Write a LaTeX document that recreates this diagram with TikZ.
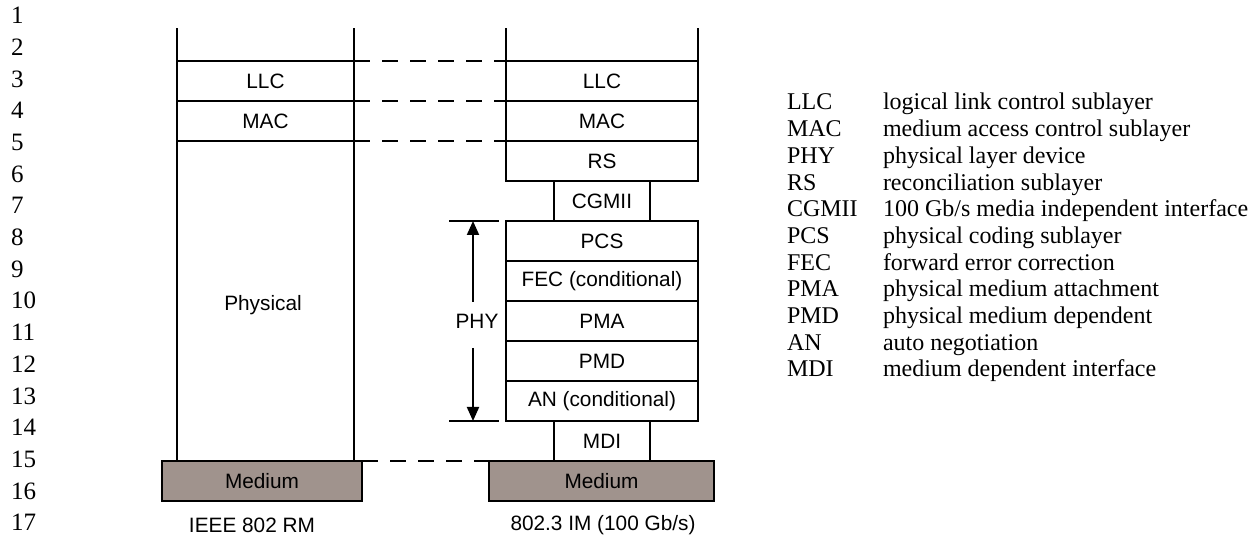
\documentclass[tikz,border=0pt]{standalone}
\usepackage{fontspec}
\setmainfont{Liberation Serif}
\setsansfont{Liberation Sans}
\usetikzlibrary{arrows.meta}
\definecolor{mediumfill}{RGB}{160,147,141}

\begin{document}
\begin{tikzpicture}[x=0.5pt, y=-0.5pt, line width=1pt, >={Triangle[length=7pt,width=6pt]},
  layer/.style={draw, minimum height=20pt, inner sep=0pt, outer sep=0pt, font=\fontsize{10.4}{12}\sffamily},
  medium/.style={layer, fill=mediumfill},
  caption/.style={inner sep=0pt, font=\fontsize{10.4}{12}\sffamily},
  legend/.style={anchor=base west, inner sep=0pt, font=\fontsize{12}{14}\selectfont},
  linenum/.style={anchor=west, inner sep=0pt, font=\fontsize{12.5}{14}\selectfont}]

\useasboundingbox (0,0) rectangle (1249,544);

% Line numbers
\foreach \n in {1,...,17} {
    \node[linenum] (num-\n) at (10, {15.5+31.7*(\n-1)}) {\n};
}

% IEEE 802 reference model
\node[layer, minimum width=88.5pt] (llcL) at (265.5,81) {LLC};
\node[layer, minimum width=88.5pt] (macL) at (265.5,121) {MAC};
\node[layer, minimum width=88.5pt, minimum height=160pt] (phyL) at (265.5,301) {};
\node[caption] (physical) at (263,305) {Physical};
\node[medium, minimum width=100pt] (medL) at (262,481) {Medium};
\draw (llcL.north west) -- ++(0,-33);
\draw (llcL.north east) -- ++(0,-33);

% 802.3 implementation model
\node[layer, minimum width=96pt] (llcR) at (602,81) {LLC};
\node[layer, minimum width=96pt] (macR) at (602,121) {MAC};
\node[layer, minimum width=96pt] (rsR) at (602,161) {RS};
\node[layer, minimum width=48pt] (cgmii) at (602,201) {CGMII};
\node[layer, minimum width=96pt] (pcs) at (602,241) {PCS};
\node[layer, minimum width=96pt] (fec) at (602,281) {FEC (conditional)};
\node[layer, minimum width=96pt] (pma) at (602,321) {PMA};
\node[layer, minimum width=96pt] (pmd) at (602,361) {PMD};
\node[layer, minimum width=96pt] (an) at (602,401) {AN (conditional)};
\node[layer, minimum width=48pt] (mdi) at (602,441) {MDI};
\node[medium, minimum width=112.5pt] (medR) at (601.5,481) {Medium};
\draw (llcR.north west) -- ++(0,-33);
\draw (llcR.north east) -- ++(0,-33);

% Dashed correspondences
\draw[dashed, dash pattern=on 8pt off 6pt] (llcL.north east) -- (llcR.north west);
\draw[dashed, dash pattern=on 8pt off 6pt] (macL.north east) -- (macR.north west);
\draw[dashed, dash pattern=on 8pt off 6pt] (macL.south east) -- (rsR.north west);
\draw[dashed, dash pattern=on 8pt off 6pt] (medL.north east) -- (medR.north west);

% PHY extent
\draw (449,221) -- (499,221);
\draw (449,421) -- (499,421);
\node[caption] (phy) at (477,321) {PHY};
\coordinate (phyTop) at (473,302);
\coordinate (phyBot) at (473,348);
\draw[->] (phyTop) -- (phyTop |- pcs.north);
\draw[->] (phyBot) -- (phyBot |- an.south);

% Captions
\node[caption] (capL) at (252,525) {IEEE 802 RM};
\node[caption] (capR) at (603,525) {802.3 IM (100 Gb/s)};

% Legend
\foreach \abbr/\desc [count=\i] in {LLC/logical link control sublayer,
    MAC/medium access control sublayer, PHY/physical layer device,
    RS/reconciliation sublayer, CGMII/{100 Gb/s media independent interface},
    PCS/physical coding sublayer, FEC/forward error correction,
    PMA/physical medium attachment, PMD/physical medium dependent,
    AN/auto negotiation, MDI/medium dependent interface} {
    \node[legend] (abbr-\i) at (786, {110+26.67*(\i-1)}) {\abbr};
    \node[legend] (desc-\i) at (882, {110+26.67*(\i-1)}) {\desc};
}
\end{tikzpicture}
\end{document}
